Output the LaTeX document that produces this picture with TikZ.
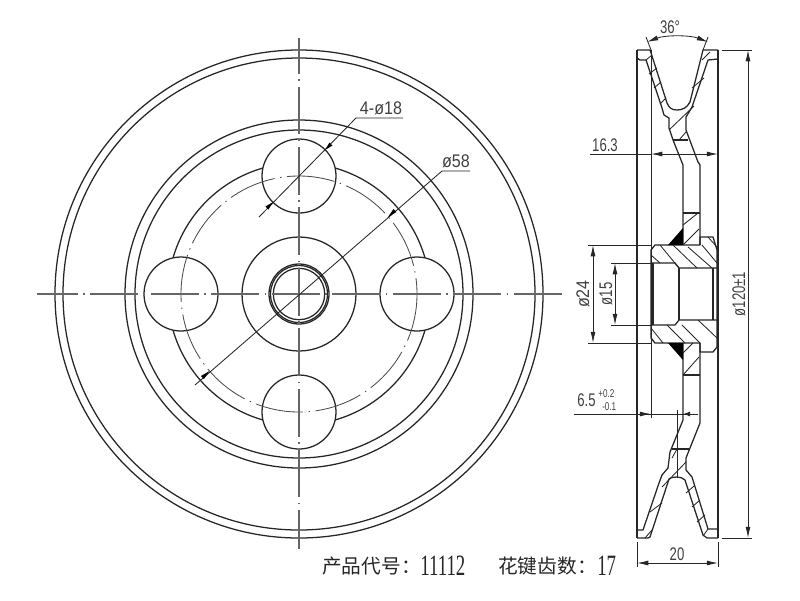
\documentclass[tikz,border=0pt]{standalone}
\usepackage{fontspec}
\usetikzlibrary{arrows.meta}
\newfontfamily\dimfont[FakeStretch=0.72]{Liberation Sans}
\newfontfamily\widefont[FakeStretch=0.88]{Liberation Sans}
\newfontfamily\numfont[FakeStretch=0.64]{Liberation Serif}
\newfontfamily\cjkfont{Noto Sans CJK SC}
\tikzset{
  part/.style={line width=0.9pt,black!85,line join=round},
  hatch/.style={line width=0.6pt,black!85},
  centreline/.style={line width=0.9pt,black!60,dash pattern=on 34pt off 4pt on 1pt off 4pt},
  pitchline/.style={line width=0.6pt,black!70,dash pattern=on 34pt off 4pt on 1pt off 4pt},
  dimline/.style={line width=0.6pt,black!85},
  dimarrow/.style={dimline,{Latex[length=8pt,width=3.5pt]}-{Latex[length=8pt,width=3.5pt]}},
  dimtext/.style={font=\dimfont\fontsize{13}{13}\selectfont,text=black!75,inner sep=0pt},
  fronttext/.style={font=\widefont\fontsize{13}{13}\selectfont,text=black!75,inner sep=0pt},
  smalltext/.style={font=\dimfont\fontsize{8}{8}\selectfont,text=black!75,inner sep=0pt},
}
\begin{document}
\begin{tikzpicture}[x=0.025cm,y=-0.025cm]
\useasboundingbox (0,0) rectangle (800,600);

% Front view rings
\draw[part] (299,294) circle (244);
\draw[part] (299,294) circle (236);
\draw[part] (299,294) circle (174);
\draw[part] (299,294) circle (164);
\draw[part] (299,294) circle (131);

% Holes
\foreach \hx/\hy in {299/176,181/294,417/294,299/412}
  \draw[part,fill=white] (\hx,\hy) circle (37);

% Hub and bore
\draw[part] (299,294) circle (57);
\draw[part] (299,294) circle (30);
\draw[part] (299,294) circle (28.5);
\draw[part] (299,294) circle (25.7);

% Centre lines
\draw[pitchline] (299,294) circle (118);
\draw[centreline,dash phase=5pt] (37,294) -- (563,294);
\draw[centreline,dash phase=8.5pt] (299,38) -- (299,549);

% Front view leaders
\draw[dimline] (259,217) -- (356,118) -- (403,118);
\fill[black] (325,150) -- (329.5,142.5) -- (332.5,145.5) -- cycle;
\fill[black] (273,202) -- (265.5,206.5) -- (268.5,209.5) -- cycle;
\draw[dimline] (195,385) -- (442,171) -- (470,171);
\fill[black] (388,217) -- (393.5,209) -- (396.5,212) -- cycle;
\fill[black] (209.5,371) -- (201,376) -- (204,379) -- cycle;
\node[fronttext] (holetext) at (381,108) {4-ø18};
\node[fronttext] (pitchtext) at (456,161) {ø58};

% Side view outer lines
\draw[part] (637,50) -- (637,538);
\draw[part] (718,50) -- (718,538);
\draw[dimline] (651,50) -- (651,418);

% Upper profile
\draw[part] (637,50) -- (650,50) -- (652,56) -- (667,103) .. controls (669,108) and (672,110) .. (677,110)
  .. controls (682,110) and (687,108) .. (690,102) -- (703,50) -- (718,50);
\draw[part] (637,58) -- (640,60) -- (646,60) -- (662,108) -- (664,115) -- (669,118) -- (669,128)
  -- (673,140) -- (683,165) -- (683,245);
\draw[part] (718,59) -- (708,60) -- (692,107) -- (686,117) -- (686,130) -- (698,162) -- (700,165) -- (700,245);
\draw[part] (673,140) -- (688,140);
\draw[part] (683,213) -- (700,213);

% Lower profile
\draw[part] (683,343) -- (683,420) -- (670,452) -- (668,468) -- (662,475) -- (659,483) -- (643,530) -- (637,530);
\draw[part] (637,538) -- (648,538) -- (650,537) -- (669,479) .. controls (672,477) and (675,477) .. (677,477)
  .. controls (680,477) and (683,478) .. (685,480) -- (703,535) -- (707,538) -- (718,538);
\draw[part] (718,529) -- (708,529) -- (692,477) -- (686,470) -- (686,458) -- (700,423) -- (700,343);
\draw[part] (672,449) -- (689,449);
\draw[part] (683,375) -- (700,375);

% Hub
\draw[part] (655,245) -- (651,250) -- (651,338) -- (655,343) -- (700,343) -- (700,352) -- (713,352) -- (717,347) -- (717,250)
  -- (713,237) -- (700,237) -- (700,245) -- cycle;
\draw[part] (651,263) -- (675,263) -- (679,268) -- (717,268);
\draw[part] (651,325) -- (675,325) -- (679,320) -- (717,320);
\draw[part] (653,263) -- (653,325);
\draw[part] (679,268) -- (679,320);
\draw[part] (713,268) -- (713,320);

% Black welds
\fill[black] (683,228) -- (683,245) -- (668,245) -- cycle;
\fill[black] (668,343) -- (683,343) -- (683,360) -- cycle;

% Hatching
\foreach \ax/\ay/\bx/\by in {
  646/60/652/55, 649/74/657/68, 654/88/661/82, 660/104/666/98,
  702/60/710/52, 692/88/704/78, 669/130/694/106, 679/140/686/132,
  683/225/698/213, 683/245/699/229, 683/375/699/357, 683/353/693/343,
  651/255/660/263, 660/245/679/268, 673/245/697/268, 688/247/712/268, 702/245/717/263, 708/237/717/247,
  651/328/663/343, 667/325/685/343, 682/325/700/343, 698/320/717/338,
  645/538/652/530, 650/512/662/503, 662/487/686/462, 672/458/677/449,
  686/493/694/486, 692/507/700/500, 697/522/705/515, 703/536/708/529}
  \draw[hatch] (\ax,\ay) -- (\bx,\by);
\draw[hatch] (677,410) -- (677,478);

% 36 degree dimension
\draw[dimline] (646,37) -- (651,50);
\draw[dimline] (708,37) -- (703,50);
\draw[dimarrow] (647,42) .. controls (665,35) and (690,35) .. (708,42);
\node[dimtext] (angletext) at (670,27) {36°};

% 16.3 dimension
\draw[dimline] (590,154) -- (651,154);
\draw[dimarrow] (651,154) -- (718,154);
\node[dimtext] (widthtext) at (605,145) {16.3};

% 120 dimension
\draw[dimline] (722,50) -- (752,50);
\draw[dimline] (722,538) -- (752,538);
\draw[dimarrow] (748,50) -- (748,538);
\node[dimtext,rotate=90] (outertext) at (739,294) {ø120±1};

% 24 and 15 dimensions
\draw[dimline] (588,245) -- (651,245);
\draw[dimline] (588,343) -- (651,343);
\draw[dimarrow] (593,245) -- (593,343);
\node[fronttext,rotate=90] (hubtext) at (583,294) {ø24};
\draw[dimline] (611,263) -- (651,263);
\draw[dimline] (611,325) -- (651,325);
\draw[dimarrow] (615,263) -- (615,325);
\node[dimtext,rotate=90] (boretext) at (606,294) {ø15};

% 6.5 dimension
\draw[dimline] (574,414) -- (698,414);
\draw[dimline,-{Latex[length=8pt,width=3.5pt]}] (640,414) -- (651,414);
\draw[dimline,-{Latex[length=5pt,width=3.5pt]}] (690,414) -- (683,414);
\node[dimtext,anchor=east] (webtext) at (596,400) {6.5};
\node[smalltext,anchor=west] (uppertext) at (598,394) {+0.2};
\node[smalltext,anchor=west] (lowertext) at (602,407) {-0.1};

% 20 dimension
\draw[dimline] (637,542) -- (637,567);
\draw[dimline] (718,542) -- (718,567);
\draw[dimarrow] (637,563) -- (718,563);
\node[dimtext] (facetext) at (677,554) {20};

% Title line
\node[anchor=west,inner sep=0pt,text=black!85] (codetext) at (322,566) {\cjkfont\fontsize{14}{14}\selectfont 产品代号：};
\node[anchor=west,inner sep=0pt,text=black!85] (codenum) at (420,566) {\numfont\fontsize{21}{21}\selectfont 11112};
\node[anchor=west,inner sep=0pt,text=black!85] (splinetext) at (498,566) {\cjkfont\fontsize{14}{14}\selectfont 花键齿数：};
\node[anchor=west,inner sep=0pt,text=black!85] (splinenum) at (597,566) {\numfont\fontsize{21}{21}\selectfont 17};
\end{tikzpicture}
\end{document}
